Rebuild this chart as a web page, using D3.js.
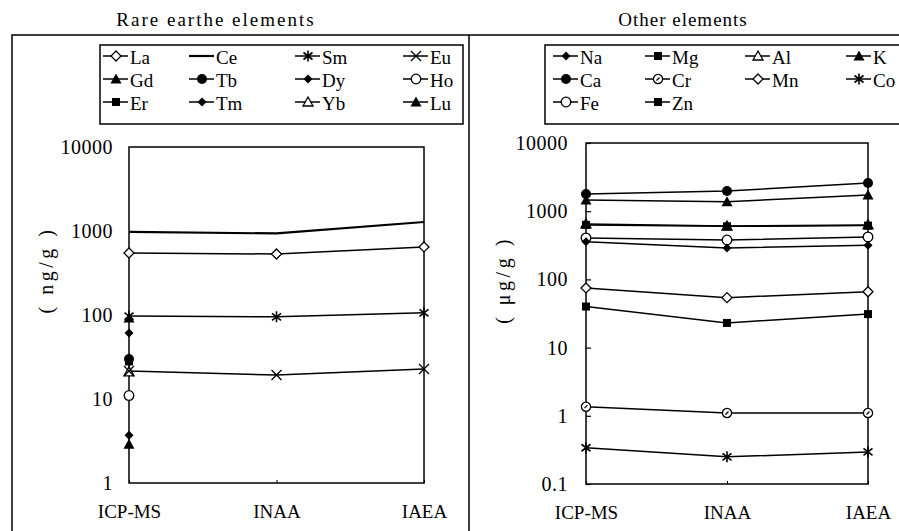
<!DOCTYPE html>
<html>
<head>
<meta charset="utf-8">
<script src="https://cdn.jsdelivr.net/npm/d3@7"></script>
<style>
  html, body { margin: 0; padding: 0; background: #fff; }
  svg { display: block; }
  text { font-family: "Liberation Serif", "DejaVu Serif", serif; fill: #000; }
</style>
</head>
<body>
<svg id="chart" width="899" height="531"></svg>
<script>
// Analytical methods compared on the x axis
const methods = ["ICP-MS", "INAA", "IAEA"];

// Rare earth elements, ng/g (only ICP-MS reported for most of them)
const reeNames = ["La", "Ce", "Sm", "Eu", "Gd", "Tb", "Dy", "Ho", "Er", "Tm", "Yb", "Lu"];
const reeLa = [547, 532, 646];
const reeCe = [975, 935, 1280];
const reeSm = [97, 95, 106];
const reeEu = [21.5, 19.3, 22.8];
const reeGd = [92, null, null];
const reeTb = [30, null, null];
const reeDy = [61, null, null];
const reeHo = [11, null, null];
const reeEr = [28, null, null];
const reeTm = [3.7, null, null];
const reeYb = [21, null, null];
const reeLu = [2.9, null, null];
const reeValues = [reeLa, reeCe, reeSm, reeEu, reeGd, reeTb, reeDy, reeHo, reeEr, reeTm, reeYb, reeLu];
const reeTicks = [1, 10, 100, 1000, 10000];

// Other elements, µg/g
const othNames = ["Na", "Mg", "Al", "K", "Ca", "Cr", "Mn", "Co", "Fe", "Zn"];
const othNa = [357, 288, 318];
const othMg = [630, 600, 615];
const othAl = [650, 607, 630];
const othK  = [1460, 1380, 1730];
const othCa = [1790, 1980, 2590];
const othCr = [1.36, 1.1, 1.1];
const othMn = [75, 54, 66];
const othCo = [0.34, 0.25, 0.295];
const othFe = [405, 378, 419];
const othZn = [40, 23, 31];
const othValues = [othNa, othMg, othAl, othK, othCa, othCr, othMn, othCo, othFe, othZn];
const othTicks = [0.1, 1, 10, 100, 1000, 10000];

// Marker style for every element
const markerOf = {
  La: "diamondOpen", Ce: "none", Sm: "asterisk", Eu: "times",
  Gd: "triangleFilled", Tb: "circleFilled", Dy: "diamondFilled", Ho: "circleOpen",
  Er: "squareFilled", Tm: "diamondFilled", Yb: "triangleOpen", Lu: "triangleFilled",
  Na: "diamondFilled", Mg: "squareFilled", Al: "triangleOpen", K: "triangleFilled",
  Ca: "circleFilled", Cr: "circleMark", Mn: "diamondOpen", Co: "asterisk",
  Fe: "circleOpen", Zn: "squareFilled"
};

const svg = d3.select("#chart");

function drawMarker(g, type) {
  const black = "#000";
  switch (type) {
    case "diamondOpen":
      g.append("path").attr("d", "M0,-5L5,0L0,5L-5,0Z").attr("fill", "#fff").attr("stroke", black).attr("stroke-width", 1.3);
      break;
    case "diamondFilled":
      g.append("path").attr("d", "M0,-4.5L4.5,0L0,4.5L-4.5,0Z").attr("fill", black);
      break;
    case "squareFilled":
      g.append("rect").attr("x", -4).attr("y", -4).attr("width", 8).attr("height", 8).attr("fill", black);
      break;
    case "triangleOpen":
      g.append("path").attr("d", "M0,-5L5,4L-5,4Z").attr("fill", "#fff").attr("stroke", black).attr("stroke-width", 1.3);
      break;
    case "triangleFilled":
      g.append("path").attr("d", "M0,-5.5L5.5,4.5L-5.5,4.5Z").attr("fill", black);
      break;
    case "circleOpen":
      g.append("circle").attr("r", 4.8).attr("fill", "#fff").attr("stroke", black).attr("stroke-width", 1.3);
      break;
    case "circleFilled":
      g.append("circle").attr("r", 5).attr("fill", black);
      break;
    case "circleMark":
      g.append("circle").attr("r", 4.6).attr("fill", "#fff").attr("stroke", black).attr("stroke-width", 1.3);
      g.append("path").attr("d", "M-1.5,1.5L1.5,-1.5").attr("stroke", black).attr("stroke-width", 1.2);
      break;
    case "asterisk":
      g.append("path").attr("d", "M0,-5.5L0,5.5M-4.5,-3.5L4.5,3.5M-4.5,3.5L4.5,-3.5")
        .attr("stroke", black).attr("stroke-width", 1.6).attr("fill", "none");
      break;
    case "times":
      g.append("path").attr("d", "M-5,-5L5,5M-5,5L5,-5")
        .attr("stroke", black).attr("stroke-width", 1.3).attr("fill", "none");
      break;
    default:
      break;
  }
}

// Panel frames
svg.append("path")
  .attr("d", "M12,531V35H899M469,35V531")
  .attr("fill", "none").attr("stroke", "#000").attr("stroke-width", 1.5);

function panel(cfg) {
  const x = d3.scalePoint().domain(methods).range([cfg.x0, cfg.x1]);
  const y = d3.scaleLog().domain(cfg.domain).range([cfg.y1, cfg.y0]);
  const g = svg.append("g");

  // title
  svg.append("text").attr("x", cfg.titleX).attr("y", 26)
    .attr("text-anchor", "middle").attr("font-size", 19)
    .attr("letter-spacing", cfg.titleSpacing).text(cfg.title);

  // plot frame
  g.append("rect").attr("x", cfg.x0).attr("y", cfg.y0)
    .attr("width", cfg.x1 - cfg.x0).attr("height", cfg.y1 - cfg.y0)
    .attr("fill", "none").attr("stroke", "#000").attr("stroke-width", 1.5);

  // y axis
  const ya = d3.axisLeft(y).tickValues(cfg.ticks)
    .tickFormat(d => d < 1 ? String(d) : d3.format("d")(d))
    .tickSize(cfg.innerTicks ? -5 : 0).tickPadding(cfg.innerTicks ? 18 : 16);
  const yg = g.append("g").attr("transform", `translate(${cfg.x0},0)`).call(ya);
  yg.select(".domain").remove();
  yg.selectAll("line").attr("stroke", "#000").attr("stroke-width", 1.2);
  yg.selectAll("text").attr("font-size", 20).attr("font-family", "Liberation Serif")
    .attr("letter-spacing", 0.5);

  // x axis
  const xa = d3.axisBottom(x).tickSize(-3).tickPadding(22);
  const xg = g.append("g").attr("transform", `translate(0,${cfg.y1})`).call(xa);
  xg.select(".domain").remove();
  xg.selectAll("line").attr("stroke", "#000").attr("stroke-width", 1);
  xg.selectAll("text").attr("font-size", 19).attr("font-family", "Liberation Serif");

  // y label
  svg.append("text")
    .attr("transform", `translate(${cfg.labelX},${cfg.labelY}) rotate(-90)`)
    .attr("text-anchor", "middle").attr("dominant-baseline", "central")
    .attr("font-size", 20).attr("letter-spacing", 3.5).text(cfg.yLabel);

  // series lines
  const line = d3.line()
    .defined(d => d.v != null)
    .x(d => x(d.m)).y(d => y(d.v));
  cfg.names.forEach((name, i) => {
    const pts = methods.map((m, j) => ({ m, v: cfg.values[i][j] }));
    g.append("path").datum(pts).attr("d", line)
      .attr("fill", "none").attr("stroke", "#000")
      .attr("stroke-width", name === "Ce" ? 2.2 : 1.5);
  });
  // markers drawn afterwards, listed from last to first so early series sit on top
  for (let i = cfg.names.length - 1; i >= 0; i--) {
    const name = cfg.names[i];
    methods.forEach((m, j) => {
      const v = cfg.values[i][j];
      if (v == null) return;
      const mg = g.append("g").attr("transform", `translate(${x(m)},${y(v)})`);
      drawMarker(mg, markerOf[name]);
    });
  }

  // legend
  const lg = svg.append("g");
  lg.append("rect").attr("x", cfg.legX0).attr("y", 45)
    .attr("width", cfg.legX1 - cfg.legX0).attr("height", 79)
    .attr("fill", "#fff").attr("stroke", "#000").attr("stroke-width", 1.5);
  const rowsY = [56, 79, 102];
  cfg.names.forEach((name, i) => {
    const row = Math.floor(i / 4), col = i % 4;
    const tx = cfg.legCols[col], ty = rowsY[row];
    lg.append("line").attr("x1", tx - 27).attr("x2", tx - 2).attr("y1", ty).attr("y2", ty)
      .attr("stroke", "#000").attr("stroke-width", name === "Ce" ? 2.2 : 1.5);
    drawMarker(lg.append("g").attr("transform", `translate(${tx - 14},${ty})`), markerOf[name]);
    lg.append("text").attr("x", tx).attr("y", ty + 1).attr("dominant-baseline", "central")
      .attr("font-size", 19).text(name);
  });
}

panel({
  title: "Rare earthe elements", titleX: 216, titleSpacing: 2,
  names: reeNames, values: reeValues, ticks: reeTicks, domain: [1, 10000],
  x0: 129, x1: 424, y0: 147, y1: 483, innerTicks: false,
  yLabel: "( ng/g )", labelX: 46, labelY: 270,
  legX0: 100, legX1: 463, legCols: [130, 216, 322, 430]
});

panel({
  title: "Other elements", titleX: 683, titleSpacing: 1,
  names: othNames, values: othValues, ticks: othTicks, domain: [0.1, 10000],
  x0: 586, x1: 868, y0: 143, y1: 484, innerTicks: true,
  yLabel: "( μg/g )", labelX: 503, labelY: 280,
  legX0: 545, legX1: 905, legCols: [580, 672, 772, 873]
});
</script>
</body>
</html>
